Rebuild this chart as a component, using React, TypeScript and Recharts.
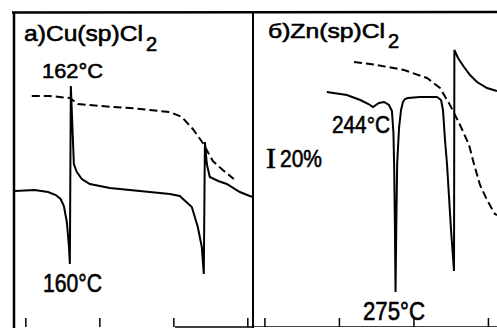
import React from 'react';
import { LineChart, Line, XAxis, YAxis } from 'recharts';

// Temperature ticks (°C)
const tempTicks = [100, 200, 300, 400];

// a) Cu(sp)Cl2 — DTA (solid) and TG (dashed), arbitrary signal units
const cuDta = [
  { t: 85, v: 137 }, { t: 112, v: 138 }, { t: 130, v: 136 }, { t: 140.5, v: 133 },
  { t: 147, v: 129 }, { t: 151.4, v: 122 }, { t: 155.4, v: 106 }, { t: 158.1, v: 83 },
  { t: 159.5, v: 64 }, { t: 160.8, v: 242 }, { t: 164.9, v: 164 }, { t: 168.9, v: 156 },
  { t: 175.7, v: 149 }, { t: 186.5, v: 144 }, { t: 213.5, v: 140 }, { t: 254, v: 137 },
  { t: 294.6, v: 134 }, { t: 308, v: 132 }, { t: 324.3, v: 121 }, { t: 332.4, v: 101 },
  { t: 337.8, v: 81 }, { t: 340.5, v: 54 }, { t: 342, v: 186 }, { t: 344.6, v: 164 },
  { t: 348.6, v: 151 }, { t: 360, v: 147 }, { t: 371.6, v: 144 }, { t: 389.2, v: 136 },
  { t: 402.7, v: 132 }, { t: 407, v: 131 },
];
const cuTg = [
  { t: 108, v: 232 }, { t: 132, v: 232 }, { t: 159.5, v: 230 }, { t: 170.3, v: 224 },
  { t: 200, v: 222 }, { t: 240.5, v: 220 }, { t: 267.6, v: 218 }, { t: 294.6, v: 216 },
  { t: 310.8, v: 211 }, { t: 325.7, v: 199 }, { t: 339.2, v: 185 }, { t: 345.9, v: 176 },
  { t: 352.7, v: 167 }, { t: 366.2, v: 158 }, { t: 381.1, v: 149 },
];

// б) Zn(sp)Cl2 — DTA (solid) and TG (dashed)
const znDta = [
  { t: 183, v: 236 }, { t: 210, v: 233 }, { t: 228, v: 228 }, { t: 239, v: 224 },
  { t: 245, v: 221 }, { t: 253, v: 225 }, { t: 260, v: 226 }, { t: 266.5, v: 223 },
  { t: 270.5, v: 217 }, { t: 272.5, v: 195 }, { t: 273.5, v: 160 }, { t: 274.5, v: 100 },
  { t: 275.3, v: 36 }, { t: 276.3, v: 100 }, { t: 277.5, v: 164 }, { t: 280, v: 200 },
  { t: 282.7, v: 218 }, { t: 285.3, v: 226 }, { t: 288, v: 229 }, { t: 292, v: 230 },
  { t: 308, v: 231 }, { t: 331, v: 231 }, { t: 336.4, v: 228 }, { t: 339, v: 218 },
  { t: 341.7, v: 188 }, { t: 344.4, v: 164 }, { t: 349.8, v: 98 }, { t: 353.8, v: 57 },
  { t: 354.3, v: 278 }, { t: 359.2, v: 270 }, { t: 367.2, v: 261 }, { t: 375.3, v: 253 },
  { t: 384.7, v: 246 }, { t: 398.1, v: 240 }, { t: 411.5, v: 237 },
];
const znTg = [
  { t: 219.6, v: 266 }, { t: 250.4, v: 263 }, { t: 286.7, v: 258 }, { t: 317.6, v: 250 },
  { t: 335, v: 240 }, { t: 348.4, v: 223 }, { t: 361.9, v: 203 }, { t: 374, v: 183 },
  { t: 380.6, v: 164 }, { t: 388.7, v: 143 }, { t: 398.1, v: 128 }, { t: 408.8, v: 114 },
  { t: 411.5, v: 113 },
];

const FONT = '"Liberation Sans", Arial, sans-serif';
const empty = () => '';

function Panel(props: {
  dta: { t: number; v: number }[];
  tg: { t: number; v: number }[];
  domain: [number, number];
  width: number;
  axisLine: boolean;
}) {
  const { dta, tg, domain, width, axisLine } = props;
  return (
    <LineChart width={width} height={315} margin={{ top: 0, right: 0, bottom: 0, left: 0 }}>
      <XAxis
        dataKey="t"
        type="number"
        domain={domain}
        ticks={tempTicks}
        allowDataOverflow
        mirror
        height={1}
        tickSize={9}
        tickMargin={0}
        tickFormatter={empty}
        axisLine={axisLine ? { stroke: '#000', strokeWidth: 1.5 } : false}
        tickLine={{ stroke: '#000', strokeWidth: 1.5 }}
      />
      <YAxis type="number" domain={[1, 316]} hide allowDataOverflow />
      <Line
        data={dta}
        dataKey="v"
        type="linear"
        stroke="#000"
        strokeWidth={2}
        dot={false}
        isAnimationActive={false}
      />
      <Line
        data={tg}
        dataKey="v"
        type="linear"
        stroke="#000"
        strokeWidth={2}
        strokeDasharray="8 4"
        dot={false}
        isAnimationActive={false}
      />
    </LineChart>
  );
}

export default function App() {
  return (
    <div
      style={{
        position: 'absolute',
        left: 0,
        top: 0,
        width: 497,
        height: 328,
        background: '#fff',
        overflow: 'hidden',
      }}
    >
      <div style={{ position: 'absolute', left: 14, top: 12 }}>
        <Panel dta={cuDta} tg={cuTg} domain={[84, 407]} width={239} axisLine={false} />
      </div>
      <div style={{ position: 'absolute', left: 253, top: 12 }}>
        <Panel dta={znDta} tg={znTg} domain={[84, 411.5]} width={244} axisLine={true} />
      </div>
      <svg
        width={497}
        height={328}
        style={{ position: 'absolute', left: 0, top: 0, pointerEvents: 'none' }}
      >
        <line x1={12} y1={12.5} x2={497} y2={12} stroke="#000" strokeWidth={2.5} />
        <line x1={14} y1={12} x2={14} y2={328} stroke="#000" strokeWidth={2.5} />
        <line x1={253} y1={12} x2={253} y2={328} stroke="#000" strokeWidth={2} />
        <line x1={175} y1={327} x2={253} y2={327} stroke="#000" strokeWidth={1.5} />
        <g fontFamily={FONT} fill="#000" stroke="#000" strokeWidth={0.6}>
          <text x={24} y={41} fontSize={22} textLength={119} lengthAdjust="spacingAndGlyphs">a)Cu(sp)Cl</text>
          <text x={146} y={51} fontSize={20}>2</text>
          <text x={42} y={78} fontSize={21} textLength={61} lengthAdjust="spacingAndGlyphs">162°C</text>
          <text x={43} y={292} fontSize={25} textLength={59} lengthAdjust="spacingAndGlyphs">160°C</text>
          <text x={268} y={38} fontSize={21} textLength={117} lengthAdjust="spacingAndGlyphs">б)Zn(sp)Cl</text>
          <text x={388} y={48} fontSize={20}>2</text>
          <text x={332} y={133} fontSize={24} textLength={58} lengthAdjust="spacingAndGlyphs">244°C</text>
          <text x={266} y={168} fontSize={30} fontFamily='"Liberation Serif", serif'>I</text>
          <text x={280} y={167} fontSize={24} textLength={42} lengthAdjust="spacingAndGlyphs">20%</text>
          <text x={363} y={320} fontSize={25} textLength={62} lengthAdjust="spacingAndGlyphs">275°C</text>
        </g>
      </svg>
    </div>
  );
}
